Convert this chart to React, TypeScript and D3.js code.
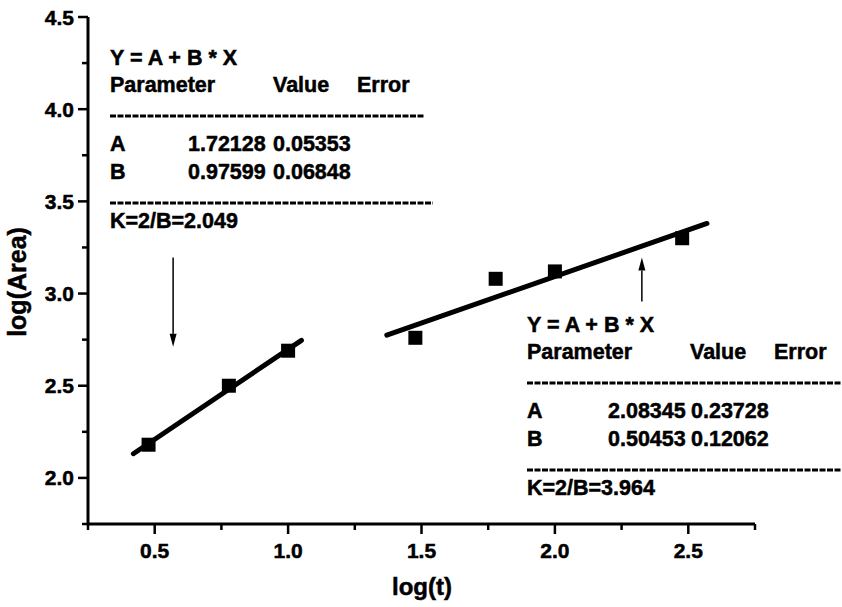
import React from "react";
import * as d3 from "d3";

// ---- data ----
const seriesAX = [0.477, 0.778, 1.0];
const seriesAY = [2.18, 2.5, 2.69];
const seriesBX = [1.477, 1.778, 2.0, 2.477];
const seriesBY = [2.76, 3.08, 3.12, 3.3];

const fitA = [1.72128, 0.97599];
const fitARange = [0.42, 1.05];
const fitB = [2.08345, 0.50453];
const fitBRange = [1.37, 2.57];

const xMajorTicks = [0.5, 1.0, 1.5, 2.0, 2.5];
const xMinorTicks = [0.25, 0.75, 1.25, 1.75, 2.25, 2.75];
const yMajorTicks = [2.0, 2.5, 3.0, 3.5, 4.0, 4.5];
const yMinorTicks = [1.75, 2.25, 2.75, 3.25, 3.75, 4.25];

// arrows: [x, yFrom, yTo(tip)]
const arrowLeft = [0.569, 3.196, 2.712];
const arrowRight = [2.326, 2.957, 3.196];

const boxLeftRows = [
  ["A", "1.72128", "0.05353"],
  ["B", "0.97599", "0.06848"],
];
const boxRightRows = [
  ["A", "2.08345", "0.23728"],
  ["B", "0.50453", "0.12062"],
];
const kLeft = "K=2/B=2.049";
const kRight = "K=2/B=3.964";

const W = 842;
const H = 607;
const FONT = "'Liberation Sans', Arial, Helvetica, sans-serif";

export default function App() {
  const x = d3.scaleLinear().domain([0.25, 2.75]).range([88, 755]);
  const y = d3.scaleLinear().domain([1.75, 4.5]).range([524, 17]);

  const fitPath = (p: number[], r: number[]) =>
    d3.line<number>()
      .x((v) => x(v))
      .y((v) => y(p[0] + p[1] * v))(r) as string;

  const arrow = (a: number[], key: string) => {
    const ax = x(a[0]);
    const y0 = y(a[1]);
    const y1 = y(a[2]);
    const dir = y1 > y0 ? 1 : -1;
    const headLen = 13;
    const headW = 3.5;
    const baseY = y1 - dir * headLen;
    return (
      <g key={key}>
        <line x1={ax} y1={y0} x2={ax} y2={baseY} stroke="#000" strokeWidth={1.5} />
        <path
          d={`M${ax - headW},${baseY} L${ax + headW},${baseY} L${ax},${y1} Z`}
          fill="#000"
        />
      </g>
    );
  };

  const textBox = (
    left: number,
    top: number,
    rows: string[][],
    k: string,
    valX: number,
    errX: number,
    hValX: number,
    hErrX: number,
    dashEnd1: number,
    dashEnd2: number,
    key: string
  ) => {
    const fs = 21.5;
    return (
      <g key={key} fontFamily={FONT} fontWeight="bold" fontSize={fs} fill="#000" stroke="#000" strokeWidth={0.5}>
        <text x={left} y={top}>Y = A + B * X</text>
        <text x={left} y={top + 27}>Parameter</text>
        <text x={left + hValX} y={top + 27}>Value</text>
        <text x={left + hErrX} y={top + 27}>Error</text>
        <line x1={left} x2={dashEnd1} y1={top + 51} y2={top + 51} stroke="#000" strokeWidth={3} strokeDasharray="6,1.5" />
        {rows.map((r, i) => (
          <g key={i}>
            <text x={left} y={top + 86 + i * 28}>{r[0]}</text>
            <text x={left + valX} y={top + 86 + i * 28}>{r[1]}</text>
            <text x={left + errX} y={top + 86 + i * 28}>{r[2]}</text>
          </g>
        ))}
        <line x1={left} x2={dashEnd2} y1={top + 138} y2={top + 138} stroke="#000" strokeWidth={3} strokeDasharray="6,1.5" />
        <text x={left} y={top + 163}>{k}</text>
      </g>
    );
  };

  const ms = 14;

  return (
    <svg
      width={W}
      height={H}
      style={{ position: "absolute", left: 0, top: 0, background: "#fff" }}
    >
      <rect width={W} height={H} fill="#fff" />
      {/* axes */}
      <line x1={x(0.25)} x2={x(2.75)} y1={y(1.75)} y2={y(1.75)} stroke="#000" strokeWidth={3} />
      <line x1={x(0.25)} x2={x(0.25)} y1={y(1.75) + 1.5} y2={y(4.5)} stroke="#000" strokeWidth={3} />
      {xMajorTicks.map((t) => (
        <line key={"xM" + t} x1={x(t)} x2={x(t)} y1={y(1.75)} y2={y(1.75) + 10} stroke="#000" strokeWidth={2.5} />
      ))}
      {xMinorTicks.map((t) => (
        <line key={"xm" + t} x1={x(t)} x2={x(t)} y1={y(1.75)} y2={y(1.75) + 6} stroke="#000" strokeWidth={2.5} />
      ))}
      {yMajorTicks.map((t) => (
        <line key={"yM" + t} x1={x(0.25) - 10} x2={x(0.25)} y1={y(t)} y2={y(t)} stroke="#000" strokeWidth={2.5} />
      ))}
      {yMinorTicks.map((t) => (
        <line key={"ym" + t} x1={x(0.25) - 6} x2={x(0.25)} y1={y(t)} y2={y(t)} stroke="#000" strokeWidth={2.5} />
      ))}
      <g fontFamily={FONT} fontWeight="bold" fontSize={21} fill="#000" stroke="#000" strokeWidth={0.5}>
        {xMajorTicks.map((t) => (
          <text key={"xl" + t} x={x(t)} y={y(1.75) + 34} textAnchor="middle">
            {d3.format(".1f")(t)}
          </text>
        ))}
        {yMajorTicks.map((t) => (
          <text key={"yl" + t} x={x(0.25) - 14} y={y(t) + 7.5} textAnchor="end">
            {d3.format(".1f")(t)}
          </text>
        ))}
      </g>
      <text
        x={422}
        y={595}
        textAnchor="middle"
        fontFamily={FONT}
        fontWeight="bold"
        fontSize={24}
        stroke="#000"
        strokeWidth={0.5}
      >
        log(t)
      </text>
      <text
        transform={`translate(26,${282}) rotate(-90)`}
        textAnchor="middle"
        fontFamily={FONT}
        fontWeight="bold"
        fontSize={25}
        stroke="#000"
        strokeWidth={0.5}
      >
        log(Area)
      </text>

      {/* fit lines */}
      <path d={fitPath(fitA, fitARange)} stroke="#000" strokeWidth={5} strokeLinecap="round" fill="none" />
      <path d={fitPath(fitB, fitBRange)} stroke="#000" strokeWidth={5} strokeLinecap="round" fill="none" />

      {/* markers */}
      {seriesAX.map((v, i) => (
        <rect key={"a" + i} x={x(v) - ms / 2} y={y(seriesAY[i]) - ms / 2} width={ms} height={ms} fill="#000" />
      ))}
      {seriesBX.map((v, i) => (
        <rect key={"b" + i} x={x(v) - ms / 2} y={y(seriesBY[i]) - ms / 2} width={ms} height={ms} fill="#000" />
      ))}

      {arrow(arrowLeft, "al")}
      {arrow(arrowRight, "ar")}

      {textBox(110, 65, boxLeftRows, kLeft, 78, 163, 163, 247, 425, 433, "bl")}
      {textBox(527, 332, boxRightRows, kRight, 81, 164, 163, 247, 842, 842, "br")}
    </svg>
  );
}
